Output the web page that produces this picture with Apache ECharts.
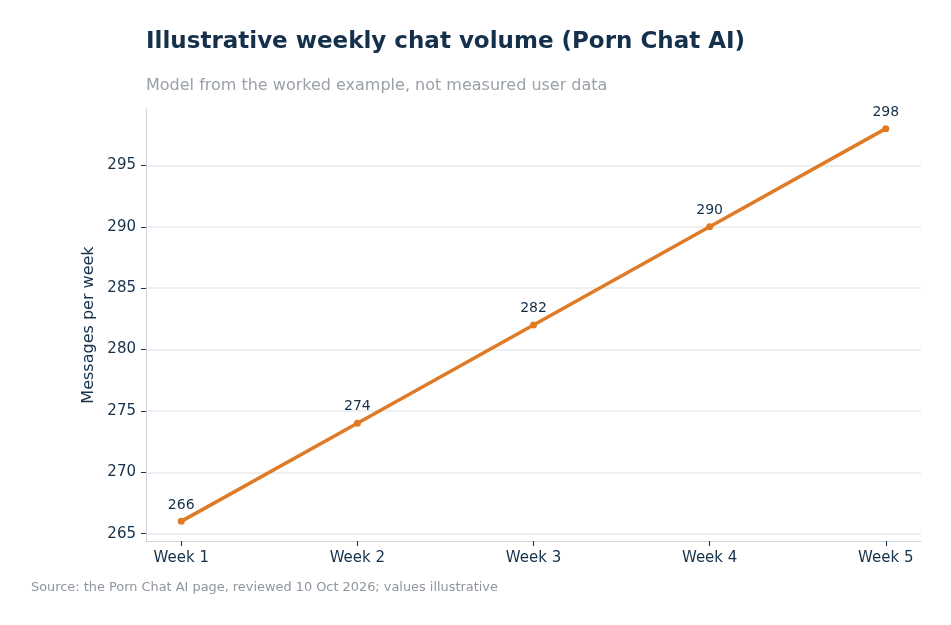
<!DOCTYPE html>
<html>
<head>
<meta charset="utf-8">
<script src="https://cdn.jsdelivr.net/npm/echarts@6/dist/echarts.min.js"></script>
<style>
  html, body { margin: 0; padding: 0; background: #fff; }
  #chart { width: 951px; height: 625px; }
</style>
</head>
<body>
<div id="chart"></div>
<script>
// chart data
const weeks = ['Week 1', 'Week 2', 'Week 3', 'Week 4', 'Week 5'];
const messages = [266, 274, 282, 290, 298];
const yTicks = [265, 270, 275, 280, 285, 290, 295];

const navy = '#15304b';
const orange = '#df7a26';

const myChart = echarts.init(document.getElementById('chart'));
myChart.setOption({
    textStyle: { fontFamily: 'DejaVu Sans' },
    title: [
        {
            text: 'Illustrative weekly chat volume (Porn Chat AI)',
            left: 146,
            top: 31,
            padding: 0,
            textStyle: { fontSize: 23, fontWeight: 'bold', color: navy, fontFamily: 'DejaVu Sans' }
        },
        {
            text: 'Model from the worked example, not measured user data',
            left: 146,
            top: 78,
            padding: 0,
            textStyle: { fontSize: 16, fontWeight: 'normal', color: '#9ba1a8', fontFamily: 'DejaVu Sans' }
        },
        {
            text: 'Source: the Porn Chat AI page, reviewed 10 Oct 2026; values illustrative',
            left: 31,
            top: 581,
            padding: 0,
            textStyle: { fontSize: 12.9, fontWeight: 'normal', color: '#8f969e', fontFamily: 'DejaVu Sans' }
        }
    ],
    grid: { left: 146, right: 30, top: 109, bottom: 84 },
    xAxis: {
        type: 'value',
        min: -0.2,
        max: 4.2,
        splitLine: { show: false },
        axisLine: { onZero: false, lineStyle: { color: '#cfd6de', width: 1 } },
        axisTick: { show: true, length: 5, customValues: [0, 1, 2, 3, 4], lineStyle: { color: navy } },
        axisLabel: {
            customValues: [0, 1, 2, 3, 4],
            margin: 10,
            fontSize: 15,
            color: navy,
            formatter: v => weeks[Math.round(v)]
        }
    },
    yAxis: {
        type: 'value',
        min: 264.4,
        max: 299.6,
        splitNumber: 7,
        minInterval: 5,
        maxInterval: 5,
        name: 'Messages per week',
        nameLocation: 'middle',
        nameGap: 46,
        nameTextStyle: { fontSize: 16, color: navy },
        axisLine: { show: true, onZero: false, lineStyle: { color: '#cfd6de', width: 1 } },
        axisTick: { show: true, length: 5, customValues: yTicks, lineStyle: { color: navy } },
        axisLabel: { customValues: yTicks, margin: 10, fontSize: 15, color: navy },
        splitLine: { show: true, lineStyle: { color: '#e8eaed', width: 1.5 } }
    },
    series: [
        {
            type: 'line',
            data: messages.map((v, i) => [i, v]),
            symbol: 'circle',
            symbolSize: 7,
            lineStyle: { color: orange, width: 3.5 },
            itemStyle: { color: orange },
            label: {
                show: true,
                position: 'top',
                distance: 6,
                fontSize: 14,
                color: navy,
                formatter: p => p.value[1]
            }
        }
    ]
});
</script>
</body>
</html>
